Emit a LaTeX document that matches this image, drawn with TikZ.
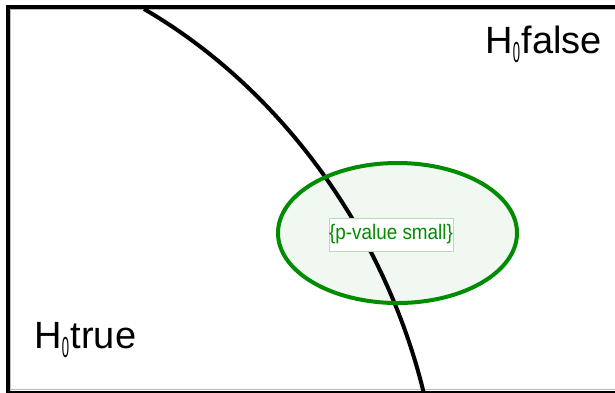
\documentclass[tikz,border=0pt]{standalone}
\usepackage{fontspec}
\setmainfont{Liberation Sans}
\usepackage{graphicx}
\definecolor{pvgreen}{RGB}{0,140,0}
\definecolor{pvfill}{RGB}{241,248,241}
\definecolor{pvbox}{RGB}{180,222,180}
\newcommand\hzero{\kern0.3pt\raisebox{-9pt}{\scalebox{0.45}[1]{\fontsize{29}{29}\selectfont 0}}\kern1.5pt}
\begin{document}
\begin{tikzpicture}[x=1pt,y=-1pt,
  frameline/.style={line width=4pt,black},
  bigtext/.style={anchor=base west,inner sep=0pt,font=\fontsize{38}{40}\selectfont},
  region/.style={line width=4pt,pvgreen}]
\useasboundingbox (0,0) rectangle (615,392);
\fill[white] (0,0) rectangle (615,392);
% frame
\draw[gray!55,line width=0.8pt] (10.5,396) -- (10.5,9.6) -- (620,9.6);
\draw[gray!55,line width=0.8pt] (10.5,389.5) -- (620,389.5);
\draw[frameline] (8,5) -- (8,400);
\draw[frameline] (6,7) -- (620,7);
\draw[frameline] (6,393) -- (620,393);
% ellipse fill
\fill[pvfill] (397.5,233) ellipse [x radius=119.5, y radius=70];
% dividing curve
\coordinate (ctop) at (144,9);
\coordinate (cbot) at (424.5,396);
\draw[line width=4pt] (ctop) .. controls (280,88) and (385.5,232) .. (cbot);
% ellipse outline
\draw[region] (397.5,233) ellipse [x radius=119.5, y radius=70];
% label
\node[draw=pvbox,fill=white,line width=0.6pt,minimum width=124pt,minimum height=33pt,
      inner sep=0pt,text=pvgreen,font=\fontsize{21}{21}\selectfont] (lbl) at (391,234.5)
      {\scalebox{0.9}[1]{\{p-value small\}}};
% texts
\node[bigtext] (hfalse) at (485,53.5) {H\hzero false};
\node[bigtext] (htrue) at (34,348) {H\hzero true};
\end{tikzpicture}
\end{document}
